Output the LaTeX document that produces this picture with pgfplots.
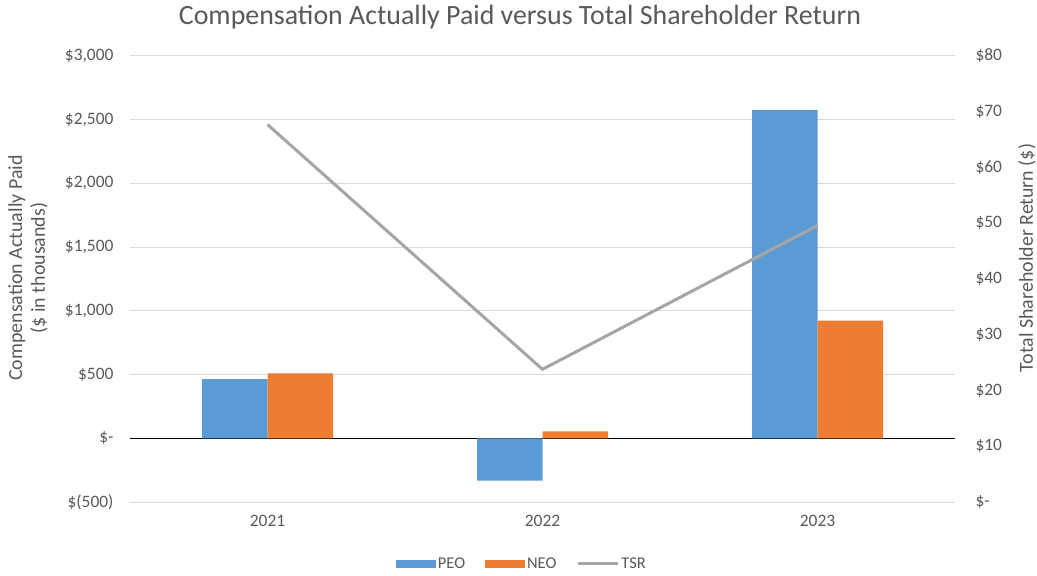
\documentclass[border=0pt]{standalone}
\usepackage{pgfplots}
\pgfplotsset{compat=1.18}
\usepackage{fontspec}
\setmainfont{Carlito}
\definecolor{peo}{HTML}{5B9BD5}
\definecolor{neo}{HTML}{ED7D31}
\definecolor{tsr}{HTML}{A5A5A5}
\definecolor{gridc}{HTML}{D9D9D9}
\definecolor{txt}{HTML}{595959}
\pgfplotsset{
  barleg/.style={legend image code/.code={\fill[##1] (0bp,-4bp) rectangle (40bp,4bp);}},
  lineleg/.style={legend image code/.code={\draw[##1] (0bp,0bp) -- (40bp,0bp);}},
}
\begin{document}
\begin{tikzpicture}
\useasboundingbox (0bp,0bp) rectangle (1037bp,576bp);
\begin{axis}[
  at={(130bp,74bp)}, anchor=south west, scale only axis,
  width=825bp, height=446bp,
  xmin=-0.5, xmax=2.5, ymin=-500, ymax=3000,
  xtick={0,1,2}, xticklabels={2021,2022,2023},
  ytick={-500,500,1000,1500,2000,2500,3000},
  yticklabels={\$(500),\$500,\$1{,}000,\$1{,}500,\$2{,}000,\$2{,}500,\$3{,}000},
  extra y ticks={0}, extra y tick labels={\$-},
  extra y tick style={grid style={black, line width=1.3bp}},
  ymajorgrids, grid style={gridc, line width=1bp},
  axis line style={draw=none}, major tick length=0pt,
  tick label style={font=\fontsize{17.5}{20}\selectfont, text=txt},
  yticklabel style={xshift=-13bp},
  xticklabel style={yshift=-10bp},
  ybar=0pt, bar width=65.5bp,
  clip=false,
]
\addplot[fill=peo, draw=none] coordinates {(0,465) (1,-332) (2,2575)};
\addplot[fill=neo, draw=none] coordinates {(0,510) (1,55) (2,924)};
\end{axis}
\begin{axis}[
  at={(130bp,74bp)}, anchor=south west, scale only axis,
  width=825bp, height=446bp,
  xmin=-0.5, xmax=2.5, ymin=0, ymax=80,
  axis y line*=right, hide x axis,
  axis line style={draw=none}, major tick length=0pt,
  ytick={0,10,...,80},
  yticklabels={\$-,\$10,\$20,\$30,\$40,\$50,\$60,\$70,\$80},
  tick label style={font=\fontsize{17.5}{20}\selectfont, text=txt},
  yticklabel style={xshift=17bp},
  legend style={at={(axis description cs:0.475,-0.139)}, anchor=center, draw=none,
    legend columns=3, font=\fontsize{16.5}{19}\selectfont, text=txt,
    /tikz/every even column/.append style={column sep=18bp}},
  legend entries={PEO,NEO,TSR},
]
\addlegendimage{fill=peo, draw=none, barleg}
\addlegendimage{fill=neo, draw=none, barleg}
\addplot[tsr, line width=3bp, lineleg] coordinates {(0,67.7) (1,23.8) (2,49.6)};
\end{axis}
\node[text=txt, font=\fontsize{28}{32}\selectfont] at (520bp,559bp) {Compensation Actually Paid versus Total Shareholder Return};
\node[text=txt, font=\fontsize{20}{23}\selectfont, rotate=90, align=center] at (28bp,308bp) {Compensation Actually Paid\\(\$ in thousands)};
\node[text=txt, font=\fontsize{20}{23}\selectfont, rotate=90] at (1027bp,318bp) {Total Shareholder Return (\$)};
\end{tikzpicture}
\end{document}
